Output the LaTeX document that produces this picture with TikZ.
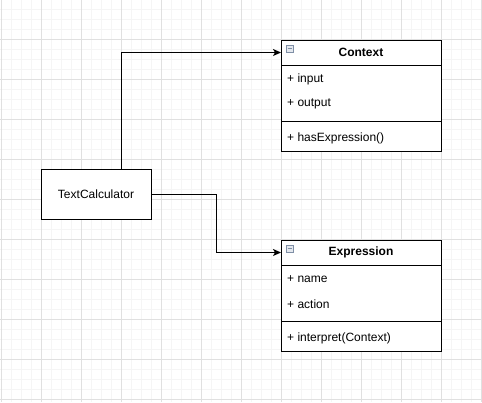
\documentclass[tikz,border=0pt]{standalone}
\usepackage{fontspec}
\setmainfont{Liberation Sans}
\usetikzlibrary{arrows.meta,positioning}

\definecolor{minorline}{HTML}{F5F5F5}
\definecolor{majorline}{HTML}{E0E0E0}
\definecolor{iconline}{HTML}{7F8FA6}
\definecolor{iconfill}{HTML}{E4E8EE}

\tikzset{
  classhead/.style={draw, fill=white, line width=1pt, outer sep=0pt, inner sep=0pt,
    minimum width=160pt, minimum height=25pt, font=\fontsize{12}{14}\selectfont\bfseries},
  classpart/.style={draw, fill=white, line width=1pt, outer sep=0pt, inner sep=0pt,
    minimum width=160pt},
  member/.style={anchor=west, inner sep=0pt},
  plainbox/.style={draw, fill=white, line width=1pt, outer sep=0pt,
    minimum width=110pt, minimum height=50pt},
  conn/.style={line width=1pt, -{Stealth[length=8pt,width=7pt,inset=2pt]}},
  foldicon/.style={draw=iconline, fill=iconfill, line width=0.8pt}
}

\begin{document}
\begin{tikzpicture}[x=1pt, y=-1pt, font=\fontsize{12}{14}\selectfont]
\useasboundingbox (0,0) rectangle (482,402);

% background grid
\foreach \x in {1,11,...,481} {
\draw[minorline, line width=1pt] (\x,0) -- (\x,402);
}
\foreach \y in {9,19,...,399} {
\draw[minorline, line width=1pt] (0,\y) -- (482,\y);
}
\foreach \x in {1,41,...,481} {
\draw[majorline, line width=1pt] (\x,0) -- (\x,402);
}
\foreach \y in {39,79,...,399} {
\draw[majorline, line width=1pt] (0,\y) -- (482,\y);
}

% client
\node[plainbox] (calc) at (96,194) {TextCalculator};

% class Context
\node[classhead] (ctxhead) at (361,52.5) {Context};
\node[classpart, minimum height=56pt, below=0pt of ctxhead] (ctxattr) {};
\node[classpart, minimum height=30pt, below=0pt of ctxattr] (ctxops) {};
\node[member] (ctxin) at (287,79) {+ input};
\node[member] (ctxout) at (287,104) {+ output};
\node[member] (ctxhas) at (287,138) {+ hasExpression()};

% class Expression
\node[classhead] (exphead) at (361,252.5) {Expression};
\node[classpart, minimum height=56pt, below=0pt of exphead] (expattr) {};
\node[classpart, minimum height=30pt, below=0pt of expattr] (expops) {};
\node[member] (expname) at (287,279) {+ name};
\node[member] (expact) at (287,304) {+ action};
\node[member] (expint) at (287,338) {+ interpret(Context)};

% collapse icons
\foreach \h in {ctxhead,exphead} {
\draw[foldicon] ([xshift=5pt,yshift=-5pt]\h.north west) rectangle ++(7,7);
\draw[iconline, line width=0.8pt] ([xshift=6.5pt,yshift=-8.5pt]\h.north west) -- ++(4,0);
}

% connectors
\coordinate (bend) at (216,194);
\draw[conn] ([xshift=25pt]calc.north) |- (ctxhead.west);
\draw[conn] (calc.east) -- (bend) |- (exphead.west);
\end{tikzpicture}
\end{document}
